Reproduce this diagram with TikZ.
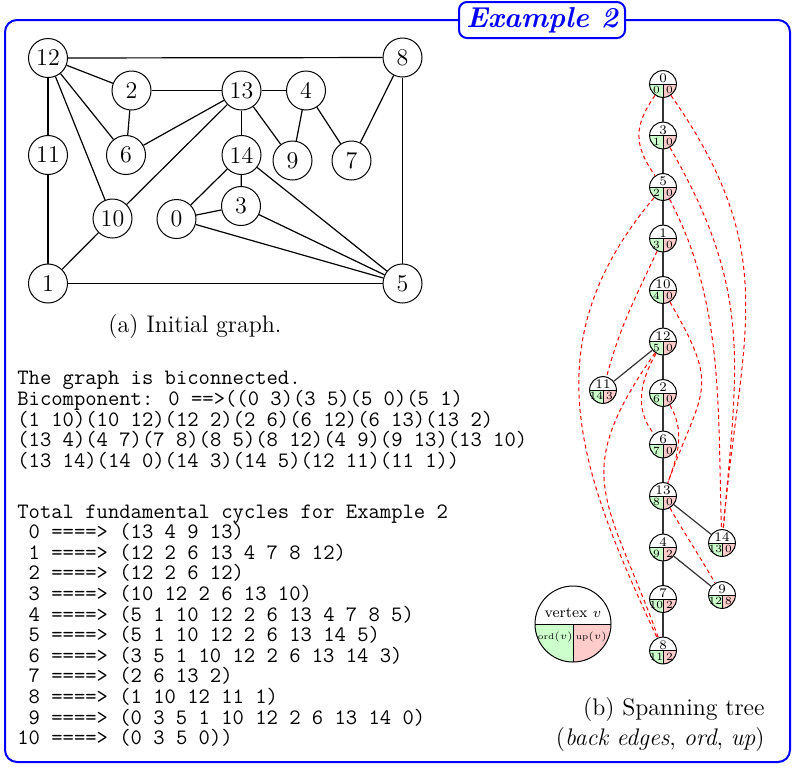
\documentclass[tikz,border=0pt]{standalone}
\usepackage{amsmath}
\usetikzlibrary{positioning,calc}
\definecolor{ordgreen}{HTML}{CCFFCC}
\definecolor{uppink}{HTML}{FFCCCC}
\definecolor{boxblue}{HTML}{0000FF}

\begin{document}
\begin{tikzpicture}[x=0.5pt,y=-0.5pt,
  every node/.style={inner sep=0pt},
  gnode/.style={circle, draw, line width=0.5pt, minimum size=19.5pt, font=\large},
  gedge/.style={line width=0.6pt},
  quarters/.style={path picture={
      \fill[ordgreen] (path picture bounding box.west) rectangle (path picture bounding box.south);
      \fill[uppink] (path picture bounding box.east) rectangle (path picture bounding box.south);
      \draw[line width=0.5pt] (path picture bounding box.west) -- (path picture bounding box.east);
      \draw[line width=0.5pt] (path picture bounding box.center) -- (path picture bounding box.south);}},
  tnode/.style={circle, draw, line width=0.5pt, minimum size=13.4pt, quarters},
  tnum/.style={font=\fontsize{6.6}{6.6}\selectfont},
  tsub/.style={font=\fontsize{5.5}{5.5}\selectfont},
  tedge/.style={line width=0.6pt, black!80},
  bedge/.style={red, line width=0.5pt, dash pattern=on 2pt off 1.6pt},
  txt/.style={font=\fontsize{11}{10.3}\selectfont\ttfamily, align=left, anchor=north west},
]
\useasboundingbox (0,0) rectangle (793,768);

% frame and title
\draw[boxblue, line width=1pt, rounded corners=6pt] (5,20) rectangle (790,762);
\node[draw=boxblue, fill=white, line width=1pt, rounded corners=4pt,
      minimum width=83pt, minimum height=18pt, text=boxblue,
      font=\Large\bfseries\itshape] (title) at (542,20) {Example 2};

% initial graph
\node[gnode] (g12) at (48,58)      {12};
\node[gnode] (g2)  at (131.5,90.5) {2};
\node[gnode] (g13) at (241.5,90.5) {13};
\node[gnode] (g4)  at (306,90.5)   {4};
\node[gnode] (g8)  at (402.5,57.5) {8};
\node[gnode] (g11) at (48,155)     {11};
\node[gnode] (g6)  at (126,155)    {6};
\node[gnode] (g14) at (241.5,155)  {14};
\node[gnode] (g9)  at (292.5,160.5){9};
\node[gnode] (g7)  at (351.5,160.5){7};
\node[gnode] (g10) at (112.5,218.5){10};
\node[gnode] (g0)  at (176.5,219)  {0};
\node[gnode] (g3)  at (241,206)    {3};
\node[gnode] (g1)  at (48,283.5)   {1};
\node[gnode] (g5)  at (402.5,283.5){5};

\foreach \a/\b in {12/8,12/2,12/6,12/11,12/10,11/1,1/10,1/5,2/6,2/13,6/13,13/4,
                   13/14,13/9,13/10,4/9,4/7,7/8,8/5,14/0,14/3,14/5,0/3,0/5,3/5}
  \draw[gedge] (g\a) -- (g\b);

\node[font=\large] (capa) at (195,326) {(a) Initial graph.};

% program output
\node[txt] (bicomp) at (17,371) {The graph is biconnected.\\
Bicomponent: 0 ==>((0 3)(3 5)(5 0)(5 1)\\
(1 10)(10 12)(12 2)(2 6)(6 12)(6 13)(13 2)\\
(13 4)(4 7)(7 8)(8 5)(8 12)(4 9)(9 13)(13 10)\\
(13 14)(14 0)(14 3)(14 5)(12 11)(11 1))};

\node[txt] (cycles) at (17,504) {Total fundamental cycles for Example 2\\
\ 0 ====> (13 4 9 13)\\
\ 1 ====> (12 2 6 13 4 7 8 12)\\
\ 2 ====> (12 2 6 12)\\
\ 3 ====> (10 12 2 6 13 10)\\
\ 4 ====> (5 1 10 12 2 6 13 4 7 8 5)\\
\ 5 ====> (5 1 10 12 2 6 13 14 5)\\
\ 6 ====> (3 5 1 10 12 2 6 13 14 3)\\
\ 7 ====> (2 6 13 2)\\
\ 8 ====> (1 10 12 11 1)\\
\ 9 ====> (0 3 5 1 10 12 2 6 13 14 0)\\
10 ====> (0 3 5 0))};

% spanning tree
\foreach \v/\yy/\o/\u in {0/84/0/0, 3/135.5/1/0, 5/187/2/0, 1/238.5/3/0, 10/290/4/0,
    12/341.5/5/0, 2/393/6/0, 6/444.5/7/0, 13/496/8/0, 4/547.5/9/2, 7/599/10/2, 8/650.5/11/2}{
  \node[tnode] (t\v) at (663,\yy) {};
  \node[tnum] (t\v-n) at ([yshift=2.8pt]t\v.center) {\v};
  \node[tsub] (t\v-o) at ([xshift=-3.3pt,yshift=-3pt]t\v.center) {\o};
  \node[tsub] (t\v-u) at ([xshift=3.3pt,yshift=-3pt]t\v.center) {\u};
}
\foreach \v/\xx/\yy/\o/\u in {11/603/390/14/3, 14/722/543/13/0, 9/722/595/12/8}{
  \node[tnode] (t\v) at (\xx,\yy) {};
  \node[tnum] (t\v-n) at ([yshift=2.8pt]t\v.center) {\v};
  \node[tsub] (t\v-o) at ([xshift=-3.3pt,yshift=-3pt]t\v.center) {\o};
  \node[tsub] (t\v-u) at ([xshift=3.3pt,yshift=-3pt]t\v.center) {\u};
}

\foreach \a/\b in {0/3,3/5,5/1,1/10,10/12,12/2,2/6,6/13,13/4,4/7,7/8,12/11,13/14,4/9}
  \draw[tedge] (t\a) -- (t\b);

% back edges
\draw[bedge] (t0) to[out=-125,in=125,looseness=1.2] (t5);
\draw[bedge] (t0) to[out=-55,in=85,looseness=1.15] (t14);
\draw[bedge] (t3) to[out=-60,in=85,looseness=1.1] (t14);
\draw[bedge] (t5) to[out=-62,in=92,looseness=0.9] (t14);
\draw[bedge] (t5) to[out=-130,in=115,looseness=1.1] (t8);
\draw[bedge] (t1) to[out=-115,in=75] (t11);
\draw[bedge] (t12) to[out=-125,in=110,looseness=1.35] (t8);
\draw[bedge] (t12) to[out=-120,in=130] (t6);
\draw[bedge] (t10) to[out=-60,in=70,looseness=1.45] (t13);
\draw[bedge] (t2) to[out=-60,in=70] (t13);
\draw[bedge] (t13) to[out=-60,in=120] (t9);

% legend
\node[circle, draw, line width=0.5pt, minimum size=38pt, quarters] (legend) at (573,624) {};
\node[font=\fontsize{7.5}{7.5}\selectfont] (legend-v) at ([yshift=5.5pt]legend.center) {vertex $v$};
\node[font=\fontsize{4.2}{4.2}\selectfont] (legend-o) at ([xshift=-8.8pt,yshift=-6.5pt]legend.center) {ord$(v)$};
\node[font=\fontsize{4.2}{4.2}\selectfont] (legend-u) at ([xshift=9.2pt,yshift=-6.5pt]legend.center) {up$(v)$};

\node[font=\fontsize{12}{15}\selectfont, align=right, anchor=north east] (capb) at (765,697)
  {(b) Spanning tree\\(\textit{back edges}, \textit{ord}, \textit{up})};
\end{tikzpicture}
\end{document}
